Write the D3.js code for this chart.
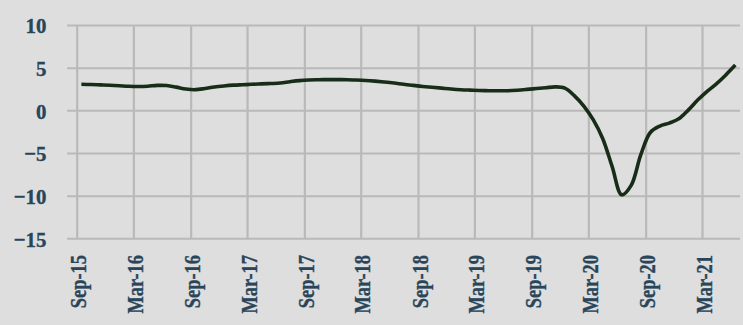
<!DOCTYPE html>
<html>
<head>
<meta charset="utf-8">
<script src="https://cdn.jsdelivr.net/npm/d3@7"></script>
<style>
  html, body { margin: 0; padding: 0; background: #dedede; }
  svg { display: block; }
  .lbl { font-family: "Liberation Serif", "DejaVu Serif", serif; font-weight: bold; fill: #29455a; stroke: #29455a; stroke-width: 0.35px; }
</style>
</head>
<body>
<svg id="chart" width="743" height="325"></svg>
<script>
// Monthly series, first month Sep-15, one value per month
const firstMonth = "Sep-15";
const values = [
  3.05, 3.02, 2.98, 2.94, 2.88, 2.82, 2.80, 2.83, 2.92, 2.90,
  2.72, 2.50, 2.42, 2.56, 2.74, 2.86, 2.95, 3.00, 3.05, 3.10,
  3.14, 3.20, 3.35, 3.48, 3.55, 3.58, 3.60, 3.60, 3.58, 3.55,
  3.50, 3.42, 3.32, 3.20, 3.05, 2.92, 2.80, 2.70, 2.60, 2.50,
  2.42, 2.37, 2.33, 2.30, 2.29, 2.30, 2.36, 2.45, 2.55, 2.65,
  2.75, 2.60, 1.70, 0.50, -1.10, -3.30, -6.60, -9.90, -8.80, -5.20,
  -2.60, -1.85, -1.50, -1.00, 0.05, 1.20, 2.20, 3.10, 4.15, 5.30
];
const xTickLabels = ["Sep-15", "Mar-16", "Sep-16", "Mar-17", "Sep-17", "Mar-18",
                     "Sep-18", "Mar-19", "Sep-19", "Mar-20", "Sep-20", "Mar-21"];
const yTicks = [10, 5, 0, -5, -10, -15];

const parseMonth = d3.utcParse("%b-%y");
const fmtMonth = d3.utcFormat("%b-%y");
const start = parseMonth(firstMonth);
const end = d3.utcMonth.offset(start, values.length);

// each value sits in the middle of its month
const points = values.map((v, i) => {
  const a = d3.utcMonth.offset(start, i);
  const b = d3.utcMonth.offset(start, i + 1);
  return { date: new Date((+a + +b) / 2), value: v };
});

const svg = d3.select("#chart");
const plotLeft = 76.7, plotRight = 740, plotTop = 25, plotBottom = 238.3, gridLeft = 67;

const x = d3.scaleUtc().domain([start, end]).range([plotLeft, plotRight]);
const y = d3.scaleLinear().domain([-15, 10]).range([plotBottom, plotTop]);

// horizontal gridlines
const yGrid = svg.append("g")
  .attr("transform", `translate(${gridLeft},0)`)
  .call(d3.axisRight(y).tickValues(yTicks).tickSize(plotRight - gridLeft).tickFormat(""));
yGrid.select(".domain").remove();
yGrid.selectAll("line").attr("stroke", "#b9b9b9").attr("stroke-width", 2);

// vertical gridlines
const xTickDates = xTickLabels.map(parseMonth);
const xGrid = svg.append("g")
  .attr("transform", `translate(0,${plotBottom})`)
  .call(d3.axisTop(x).tickValues(xTickDates).tickSize(plotBottom - plotTop).tickFormat(""));
xGrid.select(".domain").remove();
xGrid.selectAll("line").attr("stroke", "#b9b9b9").attr("stroke-width", 2.2);

// y labels
const yAx = svg.append("g")
  .attr("transform", "translate(46.5,0)")
  .call(d3.axisLeft(y).tickValues(yTicks).tickSize(0).tickPadding(0));
yAx.select(".domain").remove();
yAx.selectAll("text")
  .attr("class", "lbl")
  .attr("font-size", 22)
  .attr("dy", "0.35em")
  .attr("fill", null)
  .attr("transform", "scale(0.95,1)")
  .attr("x", 0);

// x labels, rotated
const xAx = svg.append("g")
  .attr("transform", "translate(0,255)")
  .call(d3.axisBottom(x).tickValues(xTickDates).tickSize(0).tickFormat(fmtMonth));
xAx.select(".domain").remove();
xAx.selectAll("text")
  .attr("class", "lbl")
  .attr("font-size", 23)
  .attr("fill", null)
  .attr("text-anchor", "end")
  .attr("y", 0)
  .attr("dy", 0)
  .attr("transform", "translate(9,0) rotate(-90) scale(0.8,1)");

// series line
const line = d3.line()
  .x(d => x(d.date))
  .y(d => y(d.value))
  .curve(d3.curveCatmullRom.alpha(0.5));

svg.append("path")
  .datum(points)
  .attr("d", line)
  .attr("fill", "none")
  .attr("stroke", "#182d17")
  .attr("stroke-width", 3.6)
  .attr("stroke-linejoin", "round");
</script>
</body>
</html>
